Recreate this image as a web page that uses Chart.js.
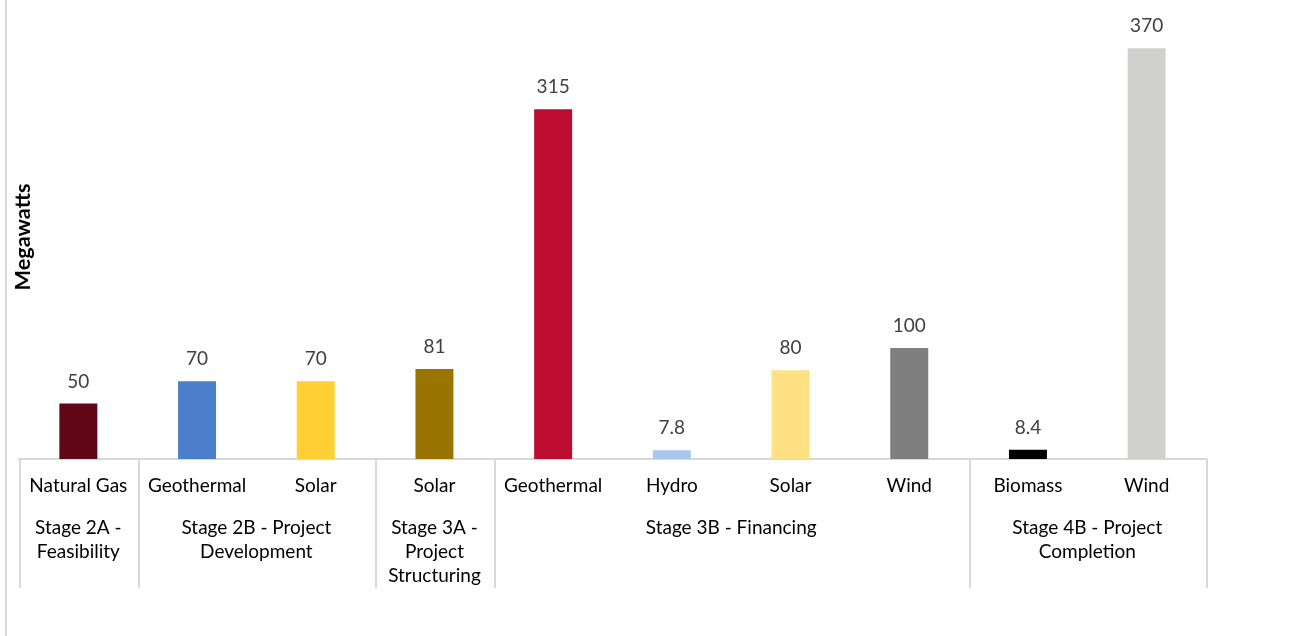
<!DOCTYPE html>
<html>
<head>
<meta charset="utf-8">
<script src="https://cdn.jsdelivr.net/npm/chart.js@4.4.0/dist/chart.umd.min.js"></script>
<style>
  html, body { margin: 0; padding: 0; background: #ffffff; }
  #wrap { position: relative; width: 1292px; height: 636px; }
  #edge { position: absolute; left: 5px; top: 0; width: 2px; height: 636px; background: #d9d9d9; }
  canvas { display: block; }
</style>
</head>
<body>
<div id="wrap">
  <div id="edge"></div>
  <canvas id="chart" width="1292" height="636"></canvas>
</div>
<script>
// Technology of each project, in axis order
const technologies = ['Natural Gas', 'Geothermal', 'Solar', 'Solar', 'Geothermal', 'Hydro', 'Solar', 'Wind', 'Biomass', 'Wind'];
// Capacity in megawatts
const megawatts = [50, 70, 70, 81, 315, 7.8, 80, 100, 8.4, 370];
// Bar colours, one per project
const barColors = ['#600818', '#4b7fcc', '#ffcf33', '#997400', '#bc0d31', '#a9c6ec', '#ffe083', '#7f7f7f', '#000000', '#d0d0ce'];
// Stage groups along the axis (label lines, and how many projects each spans)
const stageLabels = [
  ['Stage 2A -', 'Feasibility'],
  ['Stage 2B - Project', 'Development'],
  ['Stage 3A -', 'Project', 'Structuring'],
  ['Stage 3B - Financing'],
  ['Stage 4B - Project', 'Completion']
];
const stageSizes = [1, 2, 1, 4, 2];
const yTitle = 'Megawatts';

const FONT = 'Lato, "Open Sans", sans-serif';
const LINE = '#d9d9d9';

// Value labels above bars, stage separators and stage names, y title
const decorations = {
  id: 'decorations',
  afterDatasetsDraw(chart) {
    const ctx = chart.ctx;
    const meta = chart.getDatasetMeta(0);
    ctx.save();
    ctx.fillStyle = '#404040';
    ctx.font = '19px ' + FONT;
    ctx.textAlign = 'center';
    ctx.textBaseline = 'alphabetic';
    meta.data.forEach((bar, i) => {
      ctx.fillText(String(megawatts[i]), bar.x, bar.y - 16);
    });
    ctx.restore();
  },
  afterDraw(chart) {
    const ctx = chart.ctx;
    const x = chart.scales.x;
    const area = chart.chartArea;
    const half = (x.getPixelForValue(1) - x.getPixelForValue(0)) / 2;
    const top = area.bottom;
    const sepBottom = top + 129;
    ctx.save();
    // separators between stage groups
    ctx.strokeStyle = LINE;
    ctx.lineWidth = 2;
    let idx = 0;
    const bounds = [0];
    stageSizes.forEach(n => { idx += n; bounds.push(idx); });
    bounds.forEach(b => {
      const px = Math.round(x.getPixelForValue(b) - half) + 1;
      ctx.beginPath();
      ctx.moveTo(px, top);
      ctx.lineTo(px, sepBottom);
      ctx.stroke();
    });
    // stage names
    ctx.fillStyle = '#000000';
    ctx.font = '19px ' + FONT;
    ctx.textAlign = 'center';
    ctx.textBaseline = 'alphabetic';
    let start = 0;
    stageSizes.forEach((n, g) => {
      const cx = (x.getPixelForValue(start) + x.getPixelForValue(start + n - 1)) / 2;
      stageLabels[g].forEach((line, k) => {
        ctx.fillText(line, cx, top + 75 + k * 24);
      });
      start += n;
    });
    // y axis title, sized to span 107px
    ctx.font = 'bold 100px ' + FONT;
    const size = Math.min(24, 100 * 107 / ctx.measureText(yTitle).width);
    ctx.font = 'bold ' + size.toFixed(1) + 'px ' + FONT;
    ctx.translate(23, 237);
    ctx.rotate(-Math.PI / 2);
    ctx.textBaseline = 'middle';
    ctx.fillText(yTitle, 0, 0);
    ctx.restore();
  }
};

new Chart(document.getElementById('chart'), {
  type: 'bar',
  data: {
    labels: technologies,
    datasets: [{
      data: megawatts,
      backgroundColor: barColors,
      borderWidth: 0,
      barPercentage: 0.32,
      categoryPercentage: 1.0
    }]
  },
  options: {
    responsive: false,
    animation: false,
    layout: { padding: { top: 15, left: 19, right: 86, bottom: 0 } },
    plugins: { legend: { display: false }, tooltip: { enabled: false } },
    scales: {
      x: {
        grid: { display: false, drawTicks: false },
        border: { display: true, color: LINE, width: 2 },
        ticks: {
          color: '#000000',
          font: { family: FONT, size: 19 },
          padding: 15,
          maxRotation: 0,
          autoSkip: false
        },
        afterFit(scale) { scale.height = 177; }
      },
      y: {
        display: false,
        min: 0,
        max: 400
      }
    }
  },
  plugins: [decorations]
});
</script>
</body>
</html>
